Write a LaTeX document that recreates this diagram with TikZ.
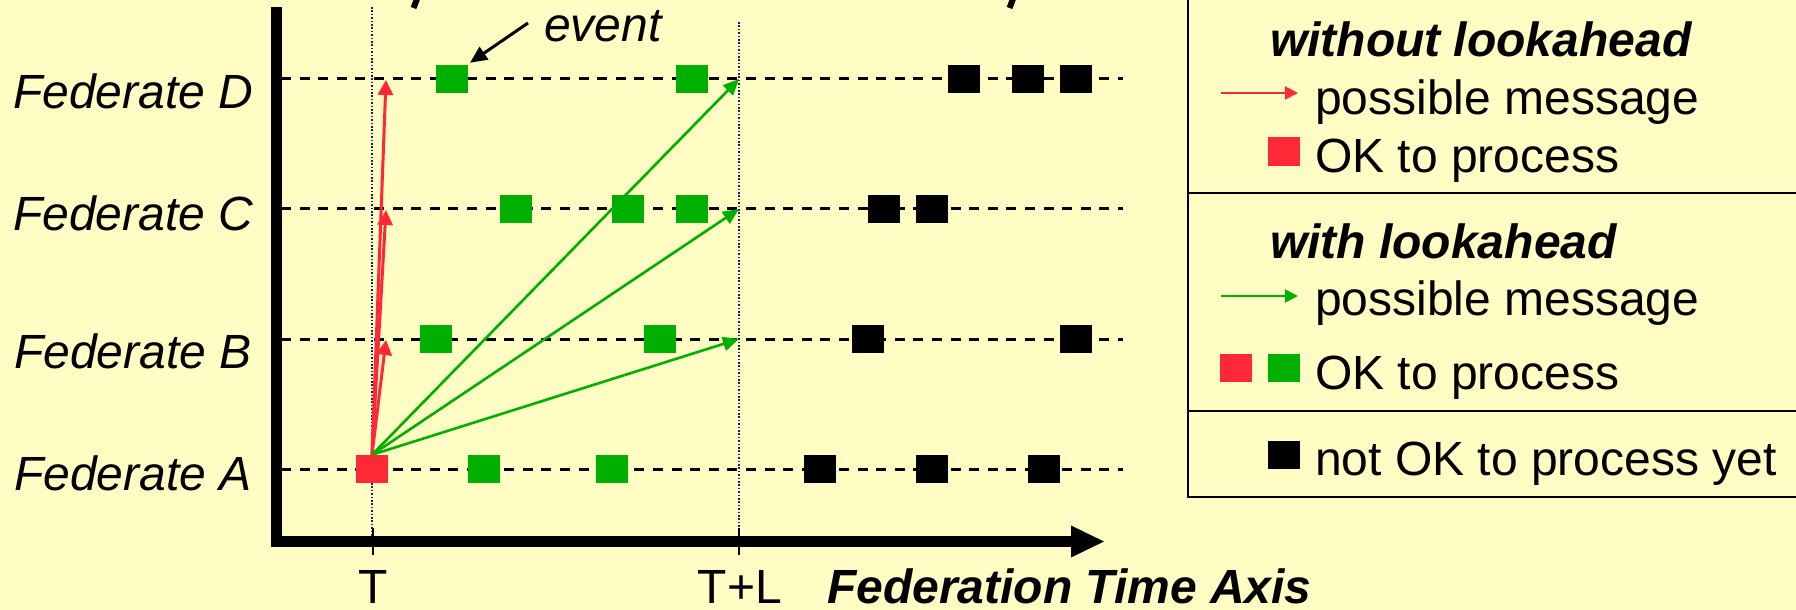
\documentclass[tikz,border=0pt]{standalone}
\usepackage{fontspec}
\setmainfont{Liberation Sans}
\usetikzlibrary{arrows.meta}
\definecolor{bg}{RGB}{255,252,196}
\definecolor{myred}{RGB}{255,40,55}
\definecolor{mygreen}{RGB}{0,176,0}
\definecolor{navy}{RGB}{20,30,110}
\begin{document}
\begin{tikzpicture}[x=0.5pt,y=-0.5pt,
  every node/.style={inner sep=0pt,outer sep=0pt},
  txt/.style={anchor=base west,font=\fontsize{24}{28}\selectfont},
  sq/.style={minimum width=16pt,minimum height=14.25pt},
  gsq/.style={sq,fill=mygreen},
  rsq/.style={sq,fill=myred},
  bsq/.style={sq,fill=black},
  rowline/.style={black,line width=1.5pt,dash pattern=on 5pt off 4.3pt},
  tline/.style={navy,line width=1pt,dash pattern=on 0.8pt off 0.9pt},
  redarr/.style={myred,line width=1.5pt,-{Triangle[length=7.5pt,width=7.5pt]}},
  greenarr/.style={mygreen,line width=1.3pt,-{Triangle[length=8pt,width=7pt]}},
  legline/.style={black,line width=1pt}
]
\fill[bg] (0,0) rectangle (1796,610);
\useasboundingbox (0,0) rectangle (1796,610);

% cut-off text remnants at the top
\draw[line width=3pt] (417,-1) -- (413.5,8);
\draw[line width=3pt] (1013,-1) -- (1009.5,8);

% rows
\foreach \y in {79,209,339,469}{
  \draw[rowline] (281,\y) -- (1123,\y);
}

% time lines
\coordinate (Ttop) at (372,7);
\coordinate (Tbot) at (372,536);
\coordinate (TLtop) at (739,22);
\coordinate (TLbot) at (739,536);
\draw[tline] (Ttop) -- (Tbot);
\draw[tline] (TLtop) -- (TLbot);

% axes
\draw[line width=5.5pt] (276.3,7) -- (276.3,547);
\draw[line width=5.5pt] (271,541.5) -- (1072,541.5);
\fill (1071,525.5) -- (1104,541.5) -- (1071,557.5) -- cycle;
\draw[line width=1pt] (373,528) -- (373,555);
\draw[line width=1pt] (739,528) -- (739,555);

% federate labels
\node[txt,font=\fontsize{24}{28}\selectfont\itshape] (labD) at (13,109) {Federate D};
\node[txt,font=\fontsize{24}{28}\selectfont\itshape] (labC) at (13,231) {Federate C};
\node[txt,font=\fontsize{24}{28}\selectfont\itshape] (labB) at (14,368) {Federate B};
\node[txt,font=\fontsize{24}{28}\selectfont\itshape] (labA) at (14,490) {Federate A};

% axis labels
\node[anchor=base,font=\fontsize{24}{28}\selectfont] (lT) at (373,603) {T};
\node[anchor=base,font=\fontsize{24}{28}\selectfont] (lTL) at (740,603) {T+L};
\node[txt,font=\fontsize{24}{28}\selectfont\bfseries\itshape] (lax) at (827,603) {Federation Time Axis};

% arrow target coordinates
\coordinate (rD) at (386,80);
\coordinate (rC) at (386,210);
\coordinate (rB) at (386,340);
\coordinate (gD) at (739,79);
\coordinate (gC) at (739,209);
\coordinate (gB) at (739,339);

\node[rsq] (a0) at (372,469) {};
\draw[redarr] (a0.north) -- (rD);
\draw[redarr] (a0.north) -- (rC);
\draw[redarr] (a0.north) -- (rB);
\draw[greenarr] (a0.north) -- (gD);
\draw[greenarr] (a0.north) -- (gC);
\draw[greenarr] (a0.north) -- (gB);

% squares
\node[rsq] (a0) at (372,469) {};
\node[gsq] (a1) at (484,469) {};
\node[gsq] (a2) at (612,469) {};
\node[bsq] (a3) at (820,469) {};
\node[bsq] (a4) at (932,469) {};
\node[bsq] (a5) at (1044,469) {};

\node[gsq] (b1) at (436,339) {};
\node[gsq] (b2) at (660,339) {};
\node[bsq] (b3) at (868,339) {};
\node[bsq] (b4) at (1076,339) {};

\node[gsq] (c1) at (516,209) {};
\node[gsq] (c2) at (628,209) {};
\node[gsq] (c3) at (692,209) {};
\node[bsq] (c4) at (884,209) {};
\node[bsq] (c5) at (932,209) {};

\node[gsq] (d1) at (452,79) {};
\node[gsq] (d2) at (692,79) {};
\node[bsq] (d3) at (964,79) {};
\node[bsq] (d4) at (1028,79) {};
\node[bsq] (d5) at (1076,79) {};

% event label
\node[txt,font=\fontsize{24}{28}\selectfont\itshape] (ev) at (544,42) {event};
\coordinate (evs) at (528,23);
\draw[line width=1.5pt,-{Triangle[length=8.5pt,width=7.5pt]}] (evs) -- ([shift={(2,-2)}]d1.north east);

% legend
\draw[legline] (1188,-5) -- (1188,497) -- (1800,497);
\draw[legline] (1188,193) -- (1800,193);
\draw[legline] (1188,411) -- (1800,411);

\node[txt,font=\fontsize{24}{28}\selectfont\bfseries\itshape] (h1) at (1270,57) {without lookahead};
\coordinate (l1s) at (1221,93);
\coordinate (l1e) at (1298,93);
\draw[myred,line width=1pt,-{Triangle[length=6.5pt,width=6.5pt]}] (l1s) -- (l1e);
\node[txt] (t1) at (1315,115) {possible message};
\node[rsq] (k1) at (1284,151.5) {};
\node[txt] (t2) at (1315,173) {OK to process};

\node[txt,font=\fontsize{24}{28}\selectfont\bfseries\itshape] (h2) at (1270,258) {with lookahead};
\coordinate (l2s) at (1221,296);
\coordinate (l2e) at (1298,296);
\draw[mygreen,line width=1pt,-{Triangle[length=6.5pt,width=6.5pt]}] (l2s) -- (l2e);
\node[txt] (t3) at (1315,315) {possible message};
\node[rsq] (k2) at (1236,368) {};
\node[gsq] (k3) at (1284,368) {};
\node[txt] (t4) at (1315,389) {OK to process};

\node[bsq] (k4) at (1284,455) {};
\node[txt] (t5) at (1315,475) {not OK to process yet};
\end{tikzpicture}
\end{document}
